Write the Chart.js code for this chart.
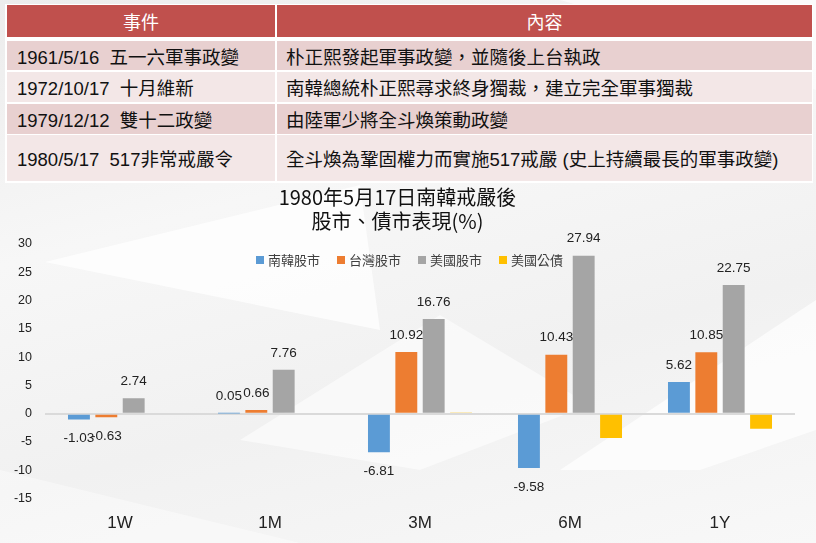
<!DOCTYPE html>
<html>
<head>
<meta charset="utf-8">
<script src="https://cdn.jsdelivr.net/npm/chart.js@4"></script>
<style>
  html, body { margin: 0; padding: 0; }
  body {
    width: 816px; height: 543px; position: relative; overflow: hidden;
    background: linear-gradient(165deg, #ececec 0%, #f7f7f7 35%, #f1f1f1 65%, #f8f8f8 100%);
    font-family: "Liberation Sans", "Noto Sans CJK TC", sans-serif;
  }
  .shape { position: absolute; left: 0; top: 0; width: 816px; height: 543px; background: #fff; }
  .s1 { clip-path: polygon(45px 262px, 360px 185px, 380px 330px); opacity: 0.75; }
  .s2 { clip-path: polygon(240px 440px, 440px 315px, 590px 405px, 420px 470px); opacity: 0.55; }
  .s3 { clip-path: polygon(560px 470px, 816px 300px, 816px 430px, 700px 470px); opacity: 0.7; }
  .s4 { clip-path: polygon(560px 0px, 816px 0px, 816px 90px, 700px 40px); opacity: 0.6; }
  .s5 { clip-path: polygon(0px 470px, 300px 543px, 0px 543px); opacity: 0.4; }
  #tbl {
    position: absolute; left: 5px; top: 4px; width: 808px; height: 179px;
    background: #fff;
  }
  .row { position: absolute; left: 2px; width: 805px; display: flex; }
  .cell {
    height: 100%; display: flex; align-items: center; box-sizing: border-box;
    font-size: 18.5px; color: #111; white-space: pre;
  }
  .c1 { width: 268px; padding-left: 10px; }
  .c2 { flex: 1; margin-left: 2px; padding-left: 9px; }
  .hdr .cell { background: #C0504D; color: #fff; justify-content: center; padding-left: 0; font-size: 18px; font-family: "Noto Sans CJK TC", sans-serif; }
  .dark .cell { background: #E8D0D0; }
  .light .cell { background: #F3E7E7; }
  #wrap { position: absolute; left: 0; top: 183px; width: 816px; height: 366px; }
</style>
</head>
<body>
<div class="shape s1"></div>
<div class="shape s2"></div>
<div class="shape s3"></div>
<div class="shape s4"></div>
<div class="shape s5"></div>

<div id="tbl"></div>
<div id="wrap"><canvas id="c" width="816" height="366"></canvas></div>

<script>
// ---- table data ----
const tableHeaders = ['事件', '內容'];
const tableEvents = ['1961/5/16  五一六軍事政變', '1972/10/17  十月維新', '1979/12/12  雙十二政變', '1980/5/17  517非常戒嚴令'];
const tableContents = ['朴正熙發起軍事政變，並隨後上台執政', '南韓總統朴正熙尋求終身獨裁，建立完全軍事獨裁', '由陸軍少將全斗煥策動政變', '全斗煥為鞏固權力而實施517戒嚴 (史上持續最長的軍事政變)'];

// ---- chart data ----
const categories = ['1W', '1M', '3M', '6M', '1Y'];
const seriesNames = ['南韓股市', '台灣股市', '美國股市', '美國公債'];
const koreaStock = [-1.03, 0.05, -6.81, -9.58, 5.62];
const taiwanStock = [-0.63, 0.66, 10.92, 10.43, 10.85];
const usStock = [2.74, 7.76, 16.76, 27.94, 22.75];
const usBond = [0, 0, 0.15, -4.3, -2.65];
const yTicks = [30, 25, 20, 15, 10, 5, 0, -5, -10, -15];
const titleLines = ['1980年5月17日南韓戒嚴後', '股市、債市表現(%)'];

// build table
(function () {
  const tbl = document.getElementById('tbl');
  const rows = [
    { cls: 'hdr', top: 1, h: 32, a: tableHeaders[0], b: tableHeaders[1] }
  ];
  const tops = [37, 67.5, 99.5, 131];
  const hs = [29, 30, 30.5, 46];
  for (let i = 0; i < tableEvents.length; i++) {
    rows.push({ cls: i % 2 === 0 ? 'dark' : 'light', top: tops[i], h: hs[i], a: tableEvents[i], b: tableContents[i] });
  }
  rows.forEach(r => {
    const d = document.createElement('div');
    d.className = 'row ' + r.cls;
    d.style.top = r.top + 'px';
    d.style.height = r.h + 'px';
    const c1 = document.createElement('div'); c1.className = 'cell c1'; c1.textContent = r.a;
    const c2 = document.createElement('div'); c2.className = 'cell c2'; c2.textContent = r.b;
    d.appendChild(c1); d.appendChild(c2);
    tbl.appendChild(d);
  });
})();

const labelPlugin = {
  id: 'barLabels',
  afterDatasetsDraw(chart) {
    const ctx = chart.ctx;
    ctx.save();
    ctx.font = '13.5px "Liberation Sans", sans-serif';
    ctx.fillStyle = '#222';
    ctx.textAlign = 'center';
    ctx.textBaseline = 'middle';
    [0, 1, 2].forEach(di => {
      const meta = chart.getDatasetMeta(di);
      const data = chart.data.datasets[di].data;
      meta.data.forEach((bar, i) => {
        const v = data[i];
        if (v === null || v === undefined) return;
        const y = v >= 0 ? bar.y - 17 : bar.y + 19;
        ctx.fillText(v.toFixed(2), bar.x, y);
      });
    });
    ctx.restore();
  }
};

// horizontal legend drawn inside the plot area, from the datasets
const legendPlugin = {
  id: 'inlineLegend',
  afterDraw(chart) {
    const ctx = chart.ctx;
    const ds = chart.data.datasets;
    const box = 8, gapText = 4, gapItem = 17, cy = 77;
    ctx.save();
    ctx.font = '13px "Noto Sans CJK TC", sans-serif';
    ctx.textBaseline = 'middle';
    const widths = ds.map(d => box + gapText + ctx.measureText(d.label).width);
    const total = widths.reduce((a, b) => a + b, 0) + gapItem * (ds.length - 1);
    let x = 409.5 - total / 2;
    ds.forEach((d, i) => {
      ctx.fillStyle = d.backgroundColor;
      ctx.fillRect(x, cy - box / 2, box, box);
      ctx.fillStyle = '#404040';
      ctx.fillText(d.label, x + box + gapText, cy + 0.5);
      x += widths[i] + gapItem;
    });
    ctx.restore();
  }
};

new Chart(document.getElementById('c'), {
  type: 'bar',
  data: {
    labels: categories,
    datasets: [
      { label: seriesNames[0], data: koreaStock, backgroundColor: '#5B9BD5' },
      { label: seriesNames[1], data: taiwanStock, backgroundColor: '#ED7D31' },
      { label: seriesNames[2], data: usStock, backgroundColor: '#A5A5A5' },
      { label: seriesNames[3], data: usBond, backgroundColor: '#FFC000' }
    ]
  },
  options: {
    responsive: false,
    animation: false,
    devicePixelRatio: 1,
    categoryPercentage: 0.73,
    barPercentage: 0.8,
    layout: { padding: { left: 0, right: 21, top: 0, bottom: 0 } },
    plugins: {
      title: {
        display: true,
        text: titleLines,
        color: '#111',
        font: { family: '"Noto Sans CJK TC", sans-serif', size: 20, weight: 'normal', lineHeight: 1.2 },
        padding: { top: 2, bottom: 11 }
      },
      legend: { display: false },
      tooltip: { enabled: false }
    },
    scales: {
      x: {
        grid: { display: false, drawTicks: false },
        border: { display: false },
        ticks: { color: '#222', font: { family: '"Liberation Sans", sans-serif', size: 17 }, padding: 15 }
      },
      y: {
        min: -15, max: 30,
        afterBuildTicks(scale) { scale.ticks = yTicks.map(v => ({ value: v })); },
        afterFit(scale) { scale.width = 45; },
        grid: {
          drawTicks: false,
          lineWidth: 2,
          color: c => (c.tick && c.tick.value === 0) ? '#dadada' : 'rgba(0,0,0,0)'
        },
        border: { display: false },
        ticks: { color: '#222', font: { family: '"Liberation Sans", sans-serif', size: 12.5 }, padding: 13 }
      }
    }
  },
  plugins: [labelPlugin, legendPlugin]
});
</script>
</body>
</html>
